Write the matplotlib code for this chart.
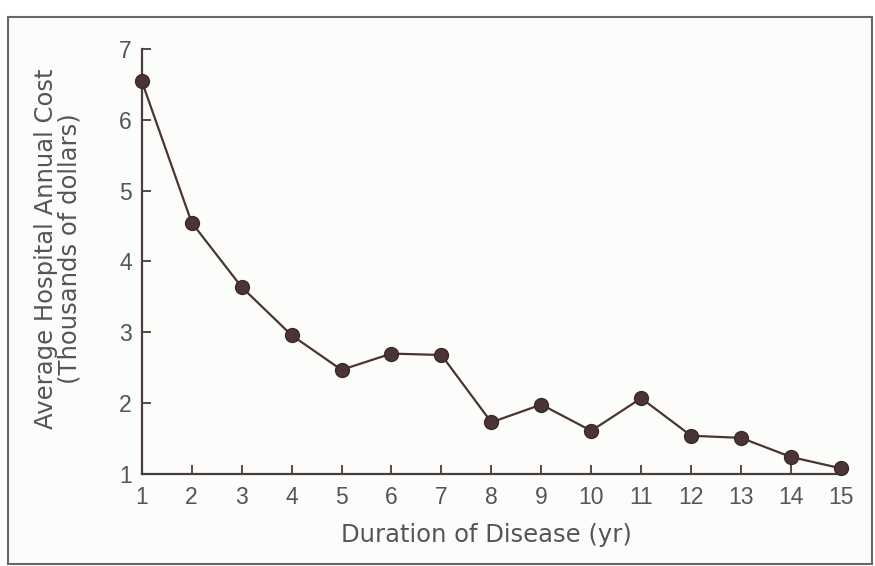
import matplotlib
matplotlib.use("Agg")
import matplotlib.pyplot as plt
from matplotlib.patches import Rectangle

years = [1, 2, 3, 4, 5, 6, 7, 8, 9, 10, 11, 12, 13, 14, 15]
cost = [6.55, 4.55, 3.64, 2.96, 2.47, 2.70, 2.68, 1.73, 1.98, 1.61, 2.07, 1.54, 1.51, 1.24, 1.08]
x_ticks = list(range(1, 16))
y_ticks = [1, 2, 3, 4, 5, 6, 7]
x_label = "Duration of Disease (yr)"
y_label = "Average Hospital Annual Cost\n(Thousands of dollars)"

plt.rcParams['font.family'] = ['Liberation Sans', 'DejaVu Sans']

W, H = 875, 566
fig = plt.figure(figsize=(W / 100, H / 100), dpi=100, facecolor='white')

# scanned-figure frame
fig.patches.append(Rectangle((8 / W, 2 / H), (872 - 8) / W, (549 - 2) / H,
                             transform=fig.transFigure, fill=True,
                             facecolor='#fcfcfb', edgecolor='#6a6666', lw=1.5, zorder=-5))

ax = fig.add_axes([141.7 / W, 1 - 474 / H, (841 - 141.7) / W, (474 - 49) / H])
ax.set_zorder(2)
ax.set_facecolor('none')

line_col = '#4a3436'
ax.plot(years, cost, color=line_col, lw=1.6, marker='o', markersize=10,
        markerfacecolor='#4a3436', markeredgecolor='#3a2a2c', clip_on=False, zorder=3)

ax.set_xlim(1, 15)
ax.set_ylim(1, 7)
ax.set_xticks(x_ticks)
ax.set_yticks(y_ticks)

for s in ['top', 'right']:
    ax.spines[s].set_visible(False)
for s in ['left', 'bottom']:
    ax.spines[s].set_color('#4a3c3c')
    ax.spines[s].set_linewidth(1.6)

txt_col = '#555555'
ax.tick_params(axis='both', direction='in', length=6.5, width=1.3, color='#4a3c3c',
               labelsize=16.5, labelcolor=txt_col)
ax.tick_params(axis='x', pad=9)
ax.tick_params(axis='y', pad=7)

lab_font = ['DejaVu Sans']
fig.text(486 / W, 1 - 542 / H, x_label, fontsize=17.5, color=txt_col,
         ha='center', va='baseline', family=lab_font)
fig.text(58 / W, 1 - 249 / H, y_label, fontsize=17.5, color=txt_col,
         ha='center', va='center', rotation=90, multialignment='center',
         linespacing=1.0, family=lab_font)

fig.savefig("out.png", dpi=100, facecolor='white')
